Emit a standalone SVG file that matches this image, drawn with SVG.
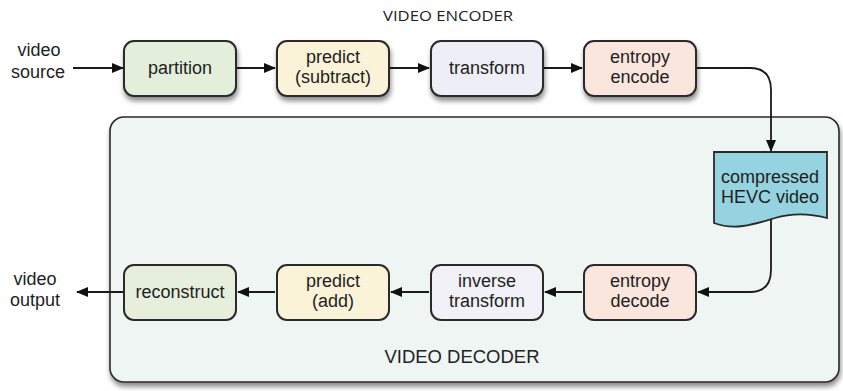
<svg xmlns="http://www.w3.org/2000/svg" width="843" height="391" viewBox="0 0 843 391">
  <style>
    .lbl { font-family: "Liberation Sans", Arial, sans-serif; font-size: 18px; fill: #1e1e1e; text-anchor: middle; }
    .title { font-family: "Open Sans", "Liberation Sans", sans-serif; font-size: 14px; fill: #222; text-anchor: middle; }
    .box { stroke: #2a2a2a; stroke-width: 2; }
    .wire { fill: none; stroke: #1a1a1a; stroke-width: 1.8; }
  </style>
  <defs>
    <filter id="shadow" x="-20%" y="-20%" width="140%" height="160%">
      <feDropShadow dx="1" dy="4" stdDeviation="2.5" flood-color="#000" flood-opacity="0.45"/>
    </filter>
    <marker id="arrow" viewBox="0 0 12 10" refX="11" refY="5" markerWidth="12" markerHeight="10" markerUnits="userSpaceOnUse" orient="auto">
      <path d="M0,0 L12,5 L0,10 Z" fill="#111"/>
    </marker>
  </defs>

  <rect width="843" height="391" fill="#ffffff"/>

  <!-- decoder container -->
  <g id="decoder">
    <rect x="110" y="117" width="729" height="265" rx="14" fill="#eef5f3" stroke="#2a2a2a" stroke-width="1.6" filter="url(#shadow)"/>
    <text x="462" y="363" font-family="'Liberation Sans', Arial, sans-serif" font-size="17.5" fill="#222" text-anchor="middle" textLength="155" lengthAdjust="spacingAndGlyphs">VIDEO DECODER</text>
  </g>

  <text class="title" x="448" y="21" textLength="130" lengthAdjust="spacingAndGlyphs">VIDEO ENCODER</text>

  <!-- connectors -->
  <g id="connectors">
    <path class="wire" d="M73,68 H123" marker-end="url(#arrow)"/>
    <path class="wire" d="M237,68 H275" marker-end="url(#arrow)"/>
    <path class="wire" d="M390,68 H429" marker-end="url(#arrow)"/>
    <path class="wire" d="M544,68 H582" marker-end="url(#arrow)"/>
    <path class="wire" d="M697,68 H750 Q771,68 771,90 V151" marker-end="url(#arrow)"/>
    <path class="wire" d="M771,220 V270 Q771,292 750,292 H698" marker-end="url(#arrow)"/>
    <path class="wire" d="M582,292 H545" marker-end="url(#arrow)"/>
    <path class="wire" d="M429,292 H391" marker-end="url(#arrow)"/>
    <path class="wire" d="M275,292 H238" marker-end="url(#arrow)"/>
    <path class="wire" d="M123,292 H77" marker-end="url(#arrow)"/>
  </g>

  <text class="lbl" x="39" y="56">video</text>
  <text class="lbl" x="38" y="78">source</text>
  <text class="lbl" x="35" y="285">video</text>
  <text class="lbl" x="35" y="306">output</text>

  <g id="partition">
    <rect class="box" x="124" y="41" width="112" height="55" rx="10" fill="#e3eedb" filter="url(#shadow)"/>
    <text class="lbl" x="180" y="74">partition</text>
  </g>
  <g id="predict-subtract">
    <rect class="box" x="277" y="41" width="112" height="55" rx="10" fill="#fbf3d7" filter="url(#shadow)"/>
    <text class="lbl" x="333" y="63">predict</text>
    <text class="lbl" x="333" y="83">(subtract)</text>
  </g>
  <g id="transform">
    <rect class="box" x="431" y="41" width="112" height="55" rx="10" fill="#eeeef6" filter="url(#shadow)"/>
    <text class="lbl" x="487" y="74">transform</text>
  </g>
  <g id="entropy-encode">
    <rect class="box" x="584" y="41" width="112" height="55" rx="10" fill="#fbe6dd" filter="url(#shadow)"/>
    <text class="lbl" x="640" y="63">entropy</text>
    <text class="lbl" x="640" y="83">encode</text>
  </g>

  <g id="compressed-video">
    <path d="M714,152 H827 V218 C812,214 795,212 775,218 C755,224 735,231 714,223 Z" fill="#94d3df" stroke="#2a2a2a" stroke-width="1.8"/>
    <text class="lbl" x="770" y="183" font-size="16.5">compressed</text>
    <text class="lbl" x="770" y="203" font-size="16.5">HEVC video</text>
  </g>

  <g id="entropy-decode">
    <rect class="box" x="584" y="265" width="112" height="55" rx="10" fill="#fbe6dd"/>
    <text class="lbl" x="640" y="287">entropy</text>
    <text class="lbl" x="640" y="307">decode</text>
  </g>
  <g id="inverse-transform">
    <rect class="box" x="431" y="265" width="112" height="55" rx="10" fill="#f1f1f7"/>
    <text class="lbl" x="487" y="287">inverse</text>
    <text class="lbl" x="487" y="307">transform</text>
  </g>
  <g id="predict-add">
    <rect class="box" x="277" y="265" width="112" height="55" rx="10" fill="#fbf3d7"/>
    <text class="lbl" x="333" y="287">predict</text>
    <text class="lbl" x="333" y="307">(add)</text>
  </g>
  <g id="reconstruct">
    <rect class="box" x="124" y="265" width="112" height="55" rx="10" fill="#e6efdc"/>
    <text class="lbl" x="180" y="298">reconstruct</text>
  </g>
</svg>
